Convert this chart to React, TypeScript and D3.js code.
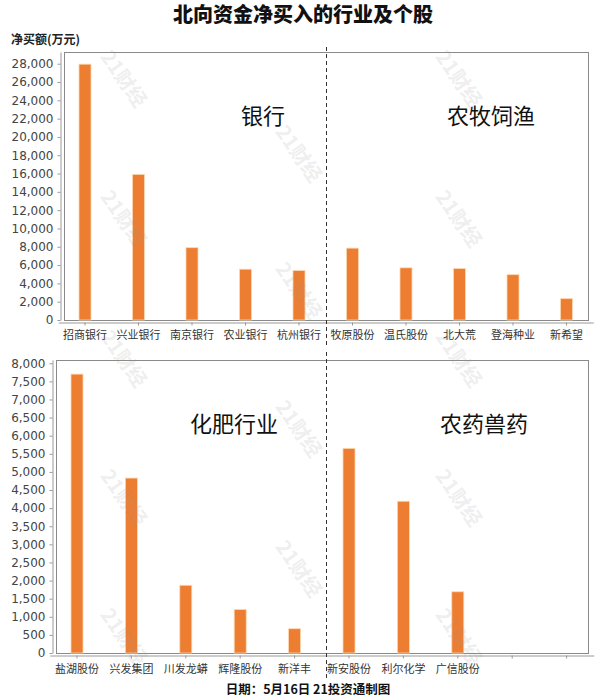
import React, { useRef, useEffect } from 'react';
import * as d3 from 'd3';

const topCategories = ['招商银行', '兴业银行', '南京银行', '农业银行', '杭州银行', '牧原股份', '温氏股份', '北大荒', '登海种业', '新希望'];
const topValues = [27950, 15900, 7900, 5550, 5400, 7850, 5700, 5620, 4950, 2330];
const topTicks = [0, 2000, 4000, 6000, 8000, 10000, 12000, 14000, 16000, 18000, 20000, 22000, 24000, 26000, 28000];
const topSectors = ['银行', '农牧饲渔'];

const bottomCategories = ['盐湖股份', '兴发集团', '川发龙蟒', '辉隆股份', '新洋丰', '新安股份', '利尔化学', '广信股份', '', ''];
const bottomValues = [7700, 4830, 1870, 1200, 670, 5650, 4190, 1690];
const bottomTicks = [0, 500, 1000, 1500, 2000, 2500, 3000, 3500, 4000, 4500, 5000, 5500, 6000, 6500, 7000, 7500, 8000];
const bottomSectors = ['化肥行业', '农药兽药'];

const CJK = '"Noto Sans CJK SC", sans-serif';
const NUM = '"DejaVu Sans", sans-serif';
const BAR = '#ED7D31';

type Panel = {
  cats: string[];
  values: number[];
  ticks: number[];
  sectors: string[];
  sectorX: number[];
  sectorY: number;
  yMax: number;
  xRange: [number, number];
  frame: { left: number; right: number; top: number; bottom: number };
  axisX: number;
  axisY: number;
  labelY: number;
};

function drawPanel(svg: d3.Selection<SVGSVGElement, unknown, null, undefined>, p: Panel, dashX: number, dashTop: number, dashBottom: number) {
  const x = d3.scaleBand<number>().domain(d3.range(p.cats.length)).range(p.xRange);
  const y = d3.scaleLinear().domain([0, p.yMax]).range([p.frame.bottom, p.frame.top]);
  const g = svg.append('g');

  g.append('rect')
    .attr('x', p.frame.left + 0.5)
    .attr('y', p.frame.top + 0.5)
    .attr('width', p.frame.right - p.frame.left)
    .attr('height', p.frame.bottom - p.frame.top)
    .attr('fill', 'none')
    .attr('stroke', '#8a8a8a');

  // y axis
  const ya = g.append('g')
    .attr('transform', `translate(${p.axisX + 0.5},0)`)
    .call(d3.axisLeft(y).tickValues(p.ticks).tickSize(3).tickSizeOuter(0).tickPadding(4).tickFormat(d3.format(',')));
  ya.select('.domain').attr('stroke', '#999');
  ya.selectAll('line').attr('stroke', '#999');
  ya.selectAll('text').attr('font-family', NUM).attr('font-size', 12).attr('fill', '#444');

  // x axis
  const xa = g.append('g')
    .attr('transform', `translate(0,${p.axisY + 0.5})`)
    .call(d3.axisBottom(x).tickSize(3).tickSizeOuter(0).tickFormat(() => ''));
  xa.select('.domain').attr('stroke', '#999');
  xa.selectAll('line').attr('stroke', '#999');

  g.selectAll('text.cat')
    .data(p.cats)
    .join('text')
    .attr('class', 'cat')
    .attr('x', (_, i) => x(i)! + x.bandwidth() / 2)
    .attr('y', p.labelY)
    .attr('text-anchor', 'middle')
    .attr('font-family', CJK)
    .attr('font-size', 11)
    .attr('fill', '#333')
    .text(d => d);

  const bw = 12;
  g.selectAll('rect.bar')
    .data(p.values)
    .join('rect')
    .attr('class', 'bar')
    .attr('x', (_, i) => x(i)! + x.bandwidth() / 2 - bw / 2)
    .attr('y', d => y(d))
    .attr('width', bw)
    .attr('height', d => y(0) - y(d))
    .attr('fill', BAR)
    .attr('stroke', '#fbd7b0')
    .attr('stroke-width', 0.8);

  g.selectAll('text.sector')
    .data(p.sectors)
    .join('text')
    .attr('class', 'sector')
    .attr('x', (_, i) => p.sectorX[i])
    .attr('y', p.sectorY)
    .attr('font-family', CJK)
    .attr('font-size', 22)
    .attr('fill', '#111')
    .text(d => d);

  g.append('line')
    .attr('x1', dashX + 0.5)
    .attr('x2', dashX + 0.5)
    .attr('y1', dashTop)
    .attr('y2', dashBottom)
    .attr('stroke', '#333')
    .attr('stroke-dasharray', '4,3');
}

const App = () => {
  const ref = useRef<SVGSVGElement>(null);

  useEffect(() => {
    const width = 600;
    const height = 700;
    const svg = d3.select(ref.current!);
    svg.selectAll('*').remove();
    svg.attr('width', width).attr('height', height).attr('viewBox', [0, 0, width, height]);

    svg.append('rect').attr('width', width).attr('height', height).attr('fill', '#fff');

    svg.append('text')
      .attr('x', 303)
      .attr('y', 22)
      .attr('text-anchor', 'middle')
      .attr('font-family', CJK)
      .attr('font-weight', 900)
      .attr('font-size', 20)
      .attr('fill', '#111')
      .text('北向资金净买入的行业及个股');

    svg.append('text')
      .attr('x', 11)
      .attr('y', 44)
      .attr('font-family', CJK)
      .attr('font-weight', 'bold')
      .attr('font-size', 12)
      .attr('fill', '#222')
      .text('净买额(万元)');

    const topPanel: Panel = {
      cats: topCategories,
      values: topValues,
      ticks: topTicks,
      sectors: topSectors,
      sectorX: [241, 447],
      sectorY: 124,
      yMax: 29280,
      xRange: [58.25, 593.25],
      frame: { left: 64, right: 588, top: 52, bottom: 320 },
      axisX: 60,
      axisY: 322,
      labelY: 339,
    };
    const topBand = d3.scaleBand<number>().domain(d3.range(topCategories.length)).range(topPanel.xRange);
    const dashX = Math.round(topBand(5)!);

    const bottomPanel: Panel = {
      cats: bottomCategories,
      values: bottomValues,
      ticks: bottomTicks,
      sectors: bottomSectors,
      sectorX: [190, 440],
      sectorY: 432,
      yMax: 8090,
      xRange: [49.8, 593.8],
      frame: { left: 56, right: 588, top: 360, bottom: 653 },
      axisX: 52,
      axisY: 655,
      labelY: 673,
    };

    drawPanel(svg, topPanel, dashX, 47, 346);
    drawPanel(svg, bottomPanel, dashX, 352, 678);

    svg.append('text')
      .attr('x', 308)
      .attr('y', 694)
      .attr('text-anchor', 'middle')
      .attr('font-family', CJK)
      .attr('font-weight', 'bold')
      .attr('font-size', 12.5)
      .attr('fill', '#111')
      .text('日期：5月16日 21投资通制图');

    // watermark
    const sideRows = [78, 218, 358, 497, 636];
    const midRows = [153, 290, 428, 568];
    const marks: [number, number][] = [];
    sideRows.forEach(r => { marks.push([125, r]); marks.push([460, r]); });
    midRows.forEach(r => marks.push([300, r]));
    svg.append('g')
      .selectAll('text')
      .data(marks)
      .join('text')
      .attr('transform', d => `translate(${d[0]},${d[1]}) rotate(55)`)
      .attr('text-anchor', 'middle')
      .attr('dominant-baseline', 'central')
      .attr('font-family', CJK)
      .attr('font-weight', 'bold')
      .attr('font-size', 20)
      .attr('fill', '#999')
      .attr('fill-opacity', 0.18)
      .text('21财经');
  }, []);

  return (
    <svg ref={ref} style={{ position: 'absolute', left: 0, top: 0, display: 'block' }}></svg>
  );
};

export default App;
